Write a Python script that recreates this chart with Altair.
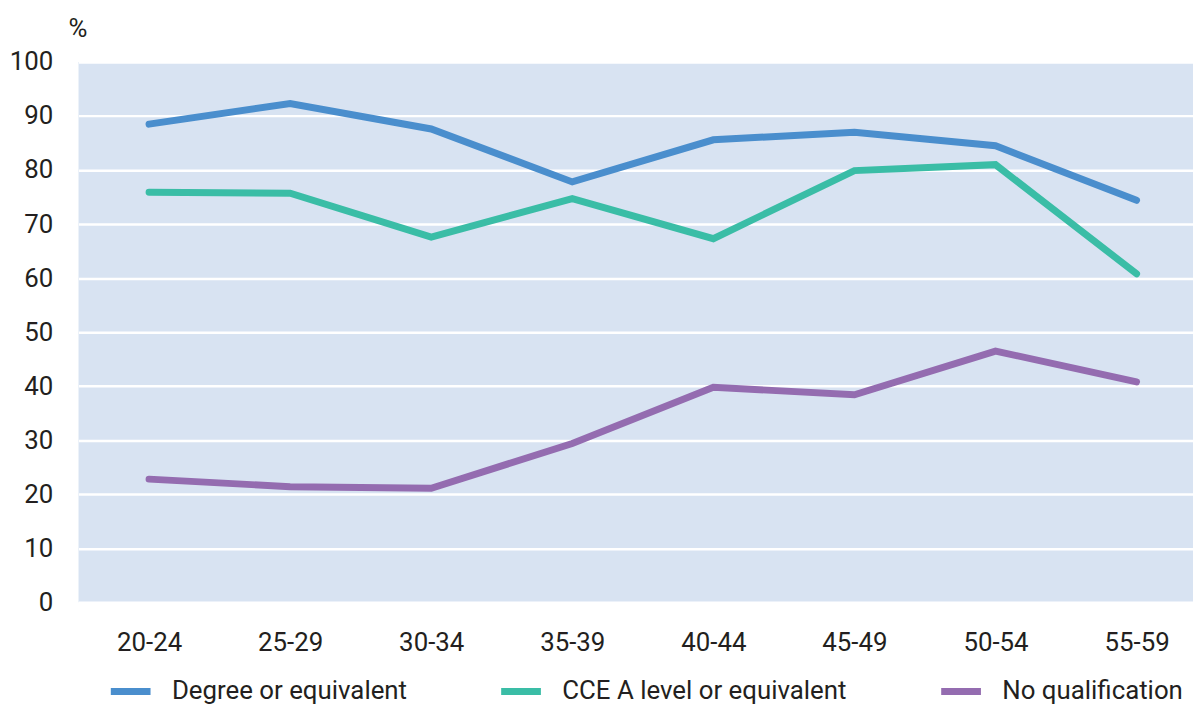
import altair as alt
import pandas as pd

age_groups = ["20-24", "25-29", "30-34", "35-39", "40-44", "45-49", "50-54", "55-59"]
series_names = ["Degree or equivalent", "CCE A level or equivalent", "No qualification"]
degree = [88.5, 92.3, 87.6, 77.8, 85.6, 87.0, 84.5, 74.4]
a_level = [75.9, 75.7, 67.6, 74.7, 67.3, 79.9, 81.0, 60.8]
no_qual = [22.8, 21.4, 21.1, 29.4, 39.8, 38.4, 46.5, 40.8]
colors = ["#4A8ECD", "#3ABDA6", "#946CB0"]
y_ticks = list(range(0, 101, 10))

rows = []
for name, vals in zip(series_names, [degree, a_level, no_qual]):
    for i, (g, v) in enumerate(zip(age_groups, vals)):
        rows.append({"series": name, "idx": i, "age": g, "value": v})
df = pd.DataFrame(rows)

label_expr = "[" + ",".join(f"'{g}'" for g in age_groups) + "][datum.value]"

FONT = "Roboto"
TXT = "#231F20"
FS = 26

chart = alt.Chart(df).mark_line(strokeWidth=7, strokeCap="round").encode(
    x=alt.X(
        "idx:Q",
        scale=alt.Scale(domain=[-0.5, 7.4], nice=False, zero=False),
        axis=alt.Axis(values=list(range(len(age_groups))), labelExpr=label_expr, title=None,
                      grid=False, ticks=False, domain=False, labelPadding=27,
                      labelFontSize=FS, labelFont=FONT, labelColor=TXT),
    ),
    y=alt.Y(
        "value:Q",
        scale=alt.Scale(domain=[0, 100], nice=False),
        axis=alt.Axis(values=y_ticks, title="%", titleAngle=0, titleX=-1, titleY=-34,
                      titleAlign="center", titleBaseline="middle", titleFontSize=FS,
                      titleFont=FONT, titleColor=TXT, titleFontWeight="normal",
                      grid=True, gridColor="white", gridWidth=2.5, ticks=False, domain=False,
                      labelPadding=26, labelFontSize=FS, labelFont=FONT, labelColor=TXT),
    ),
    color=alt.Color(
        "series:N",
        scale=alt.Scale(domain=series_names, range=colors),
        sort=series_names,
        legend=alt.Legend(orient="none", legendX=29, legendY=610, direction="horizontal",
                          title=None, symbolType="stroke", symbolSize=1600,
                          symbolStrokeWidth=7, labelFontSize=FS, labelFont=FONT,
                          labelColor=TXT, labelOffset=18, columnPadding=80, labelLimit=600),
    ),
).properties(
    width=1122,
    height=544,
    autosize=alt.AutoSizeParams(type="none"),
    padding={"left": 71, "top": 52, "right": 0, "bottom": 100},
).configure_view(fill="#D8E3F2", strokeWidth=0)

chart.save("out.html", embed_options={"renderer": "svg", "actions": False})
